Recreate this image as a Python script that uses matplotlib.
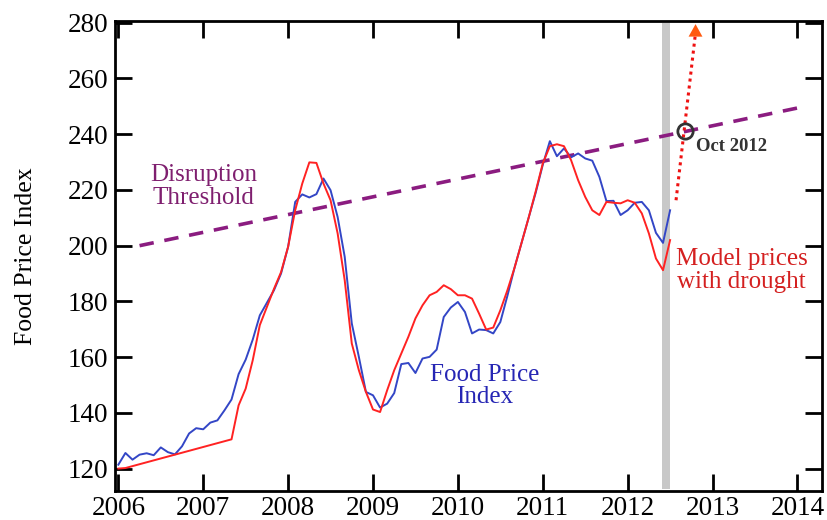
import matplotlib
matplotlib.use("Agg")
import matplotlib.pyplot as plt
import numpy as np

# ---- data (monthly, starting Jan 2006) ----
fpi_values = [121.4, 125.6, 123.2, 125.0, 125.5, 124.8, 127.6, 125.9, 125.1, 128.0, 132.6, 134.5,
              134.1, 136.5, 137.3, 140.9, 144.8, 153.9, 159.1, 166.3, 175.0, 179.5, 184.0, 190.0,
              199.6, 215.7, 218.4, 217.3, 218.5, 224.1, 219.9, 210.3, 196.0, 172.1, 160.1, 147.5,
              146.3, 141.9, 143.3, 147.1, 157.5, 157.9, 154.3, 159.5, 160.1, 162.7, 174.4, 177.8,
              179.8, 176.2, 168.5, 169.9, 169.7, 168.5, 172.6, 182.0, 192.0, 201.0, 210.0, 219.0,
              229.0, 237.5, 232.1, 234.9, 231.7, 233.1, 231.3, 230.5, 224.7, 216.0, 216.1, 211.0,
              212.7, 215.4, 215.7, 212.7, 204.6, 201.0, 212.7]
model_months = [0, 1] + list(range(16, 79))
model_values = [120.0, 120.2,
                130.5, 142.7, 148.7, 158.9, 171.5, 178.0, 184.5, 190.5,
                199.6, 212.7, 222.3, 229.9, 229.7, 222.3, 216.3, 204.4, 187.6, 164.9, 155.3, 147.5,
                141.2, 140.3, 148.1, 155.3, 161.3, 167.3, 173.9, 178.6, 182.2, 183.4, 185.8, 184.4,
                182.2, 182.2, 181.0, 175.6, 169.9, 170.6, 176.8, 184.0, 192.0, 201.0, 210.0, 219.5,
                229.5, 235.7, 236.4, 235.7, 230.7, 223.5, 217.5, 212.7, 211.0, 215.7, 215.4, 215.2,
                216.3, 215.4, 211.6, 204.4, 195.4, 191.2, 202.0]
threshold_x = [2006.25, 2014.0]
threshold_y = [200.0, 249.4]
projection_x = [2012.57, 2012.80]
projection_y = [216.3, 280.5]
oct2012 = (2012.68, 241.1)
xticks = [2006, 2007, 2008, 2009, 2010, 2011, 2012, 2013, 2014]
yticks = [120, 140, 160, 180, 200, 220, 240, 260, 280]

start_year = 2006.0
fpi_x = start_year + np.arange(len(fpi_values)) / 12.0
model_x = start_year + np.array(model_months) / 12.0

plt.rcParams['font.family'] = ['Liberation Serif', 'DejaVu Serif']

fig = plt.figure(figsize=(8.27, 5.2), dpi=100)
ax = fig.add_axes([0.139, 0.056, 0.855, 0.904])

ax.set_xlim(2005.96, 2014.29)
ax.set_ylim(112, 280.7)

# gray bar
ax.fill_between([2012.40, 2012.50], 112.8, 280, color='#c8c8c8', lw=0, zorder=1)

ax.plot(threshold_x, threshold_y, color='#8b1c80', lw=2.6, ls=(0, (4, 3)), zorder=2)
ax.plot(fpi_x, fpi_values, color='#3346c6', lw=1.4, zorder=3)
ax.plot(model_x, model_values, color='#ff2222', lw=1.4, zorder=4)

# projection arrow
ax.plot(projection_x, [projection_y[0], projection_y[1] - 4], color='#ee1111', lw=2.2,
        ls=(0, (1, 1.3)), zorder=5)
ax.annotate('', xy=(projection_x[1], projection_y[1]),
            xytext=(projection_x[1] - 0.0005, projection_y[1] - 5),
            arrowprops=dict(arrowstyle='-|>,head_length=0.9,head_width=0.5',
                            color='#ff5a10', lw=0, mutation_scale=10),
            annotation_clip=False, zorder=6)
ax.plot([oct2012[0]], [oct2012[1]], marker='o', ms=11, mfc='none', mec='#333333', mew=2, zorder=6)

ax.text(2012.80, 235.7, 'Oct 2012', color='#333333', fontsize=13.5, fontweight='bold',
        ha='left', va='center')
ax.text(2007.0, 221.2, 'Disruption\nThreshold', color='#7f1f6f', fontsize=18,
        ha='center', va='center', linespacing=1.08)
ax.text(2010.31, 149.6, 'Food Price\nIndex', color='#2626b4', fontsize=18,
        ha='center', va='center', linespacing=0.98)
ax.text(2013.34, 191.0, 'Model prices\nwith drought', color='#d42020', fontsize=18,
        ha='center', va='center', linespacing=1.08)

ax.set_xticks(xticks)
ax.set_yticks(yticks)
ax.set_xticklabels([str(t) for t in xticks])
ax.set_yticklabels([str(t) for t in yticks])
ax.tick_params(direction='in', length=12, width=2, labelsize=19.5, top=True, right=True,
               pad=5)
ax.tick_params(axis='x', pad=4)
for s in ax.spines.values():
    s.set_linewidth(2)
ax.set_ylabel('Food Price Index', fontsize=18.5, labelpad=22)

fig.savefig('out.png', dpi=100)
